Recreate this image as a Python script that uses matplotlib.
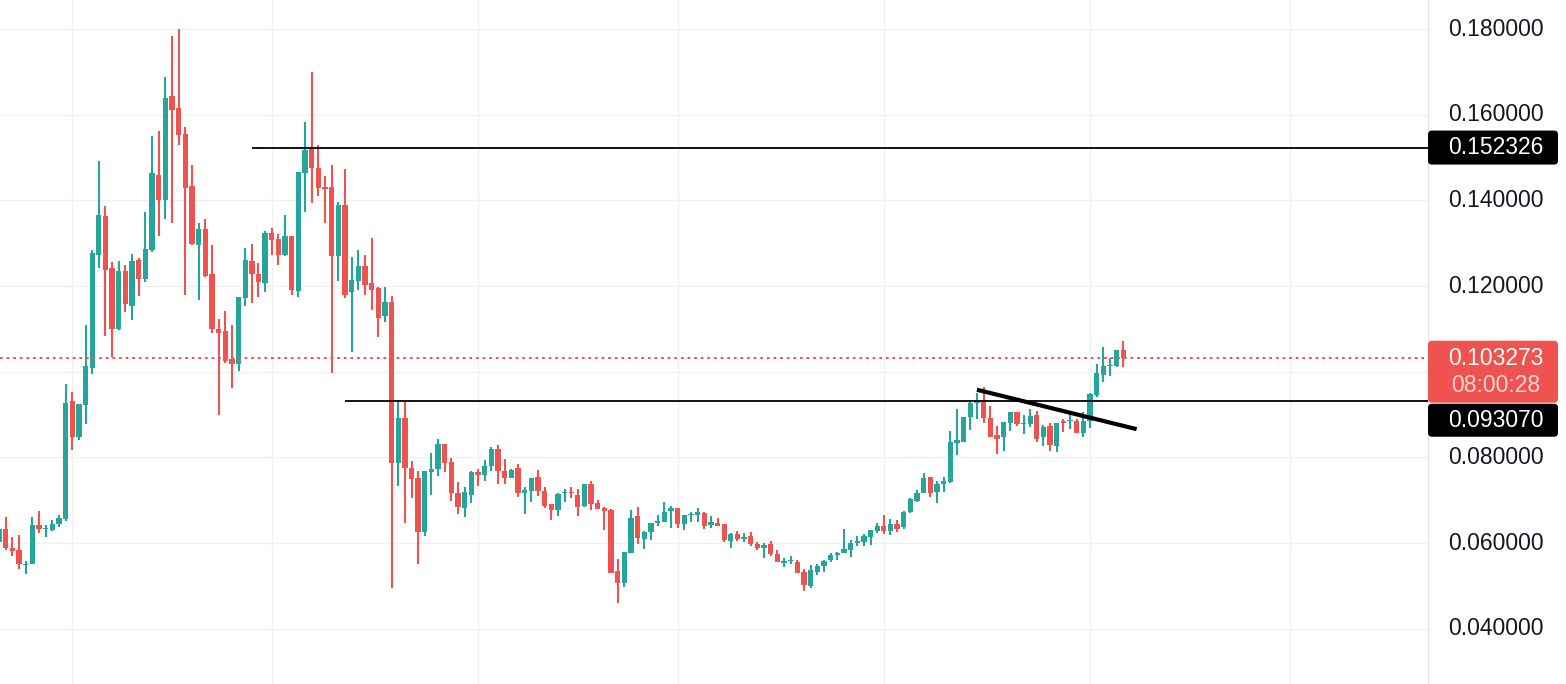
import numpy as np
import matplotlib
matplotlib.use("Agg")
import matplotlib.pyplot as plt
from matplotlib.patches import FancyBboxPatch
from matplotlib.transforms import IdentityTransform

plt.rcParams['font.family'] = ['Liberation Sans', 'DejaVu Sans']

# daily candles, index -1 .. 168
opens = [0.0603, 0.0633, 0.0589, 0.0584, 0.0550, 0.0551, 0.0642, 0.0633, 0.0631, 0.0645,
         0.0656, 0.0931, 0.0848, 0.0923, 0.1009, 0.1273, 0.1364, 0.1242, 0.1100, 0.1235,
         0.1154, 0.1261, 0.1217, 0.1284, 0.1459, 0.1401, 0.1644, 0.1616, 0.1555, 0.1434,
         0.1296, 0.1333, 0.1228, 0.1099, 0.1094, 0.1030, 0.1017, 0.1171, 0.1258, 0.1227,
         0.1208, 0.1325, 0.1310, 0.1273, 0.1317, 0.1189, 0.1465, 0.1520, 0.1476, 0.1431,
         0.1431, 0.1270, 0.1389, 0.1187, 0.1212, 0.1247, 0.1207, 0.1196, 0.1129, 0.1163,
         0.0788, 0.0892, 0.0776, 0.0752, 0.0627, 0.0767, 0.0772, 0.0831, 0.0789, 0.0718,
         0.0683, 0.0713, 0.0766, 0.0760, 0.0780, 0.0820, 0.0768, 0.0753, 0.0775, 0.0716,
         0.0722, 0.0754, 0.0722, 0.0691, 0.0678, 0.0716, 0.0720, 0.0712, 0.0687, 0.0738,
         0.0694, 0.0683, 0.0678, 0.0536, 0.0508, 0.0578, 0.0663, 0.0610, 0.0625, 0.0646,
         0.0650, 0.0676, 0.0682, 0.0645, 0.0666, 0.0666, 0.0671, 0.0643, 0.0648, 0.0645,
         0.0606, 0.0622, 0.0610, 0.0617, 0.0599, 0.0589, 0.0598, 0.0575, 0.0554, 0.0558,
         0.0556, 0.0533, 0.0500, 0.0533, 0.0547, 0.0561, 0.0572, 0.0578, 0.0584, 0.0600,
         0.0603, 0.0615, 0.0629, 0.0640, 0.0629, 0.0645, 0.0637, 0.0672, 0.0699, 0.0716,
         0.0754, 0.0719, 0.0737, 0.0743, 0.0833, 0.0837, 0.0894, 0.0928, 0.0929, 0.0891,
         0.0852, 0.0847, 0.0881, 0.0905, 0.0877, 0.0878, 0.0899, 0.0847, 0.0873, 0.0827,
         0.0884, 0.0884, 0.0886, 0.0858, 0.0886, 0.0946, 0.0993, 0.1014, 0.1014, 0.1051]
highs = [0.0640, 0.0661, 0.0614, 0.0619, 0.0558, 0.0661, 0.0674, 0.0642, 0.0654, 0.0665,
         0.0972, 0.0953, 0.0925, 0.1108, 0.1284, 0.1493, 0.1387, 0.1256, 0.1258, 0.1249,
         0.1275, 0.1266, 0.1373, 0.1550, 0.1562, 0.1688, 0.1784, 0.1800, 0.1571, 0.1483,
         0.1348, 0.1356, 0.1296, 0.1123, 0.1142, 0.1109, 0.1175, 0.1289, 0.1298, 0.1254,
         0.1329, 0.1336, 0.1322, 0.1366, 0.1317, 0.1466, 0.1583, 0.1700, 0.1529, 0.1457,
         0.1483, 0.1396, 0.1473, 0.1268, 0.1284, 0.1273, 0.1312, 0.1198, 0.1198, 0.1177,
         0.0934, 0.0932, 0.0792, 0.0768, 0.0768, 0.0810, 0.0843, 0.0831, 0.0799, 0.0743,
         0.0731, 0.0768, 0.0773, 0.0794, 0.0824, 0.0829, 0.0796, 0.0773, 0.0785, 0.0731,
         0.0752, 0.0771, 0.0731, 0.0691, 0.0717, 0.0726, 0.0731, 0.0726, 0.0738, 0.0745,
         0.0701, 0.0685, 0.0679, 0.0564, 0.0580, 0.0677, 0.0684, 0.0629, 0.0648, 0.0666,
         0.0696, 0.0687, 0.0682, 0.0666, 0.0673, 0.0682, 0.0673, 0.0663, 0.0659, 0.0645,
         0.0624, 0.0629, 0.0624, 0.0627, 0.0603, 0.0600, 0.0605, 0.0584, 0.0565, 0.0571,
         0.0561, 0.0540, 0.0549, 0.0551, 0.0561, 0.0578, 0.0579, 0.0633, 0.0607, 0.0617,
         0.0621, 0.0631, 0.0646, 0.0666, 0.0656, 0.0654, 0.0676, 0.0705, 0.0724, 0.0763,
         0.0755, 0.0744, 0.0754, 0.0862, 0.0913, 0.0895, 0.0932, 0.0950, 0.0965, 0.0920,
         0.0873, 0.0883, 0.0907, 0.0907, 0.0899, 0.0912, 0.0908, 0.0876, 0.0880, 0.0881,
         0.0889, 0.0907, 0.0889, 0.0907, 0.0951, 0.1018, 0.1057, 0.1031, 0.1051, 0.1072]
lows = [0.0598, 0.0584, 0.0570, 0.0540, 0.0528, 0.0551, 0.0624, 0.0614, 0.0628, 0.0637,
        0.0652, 0.0818, 0.0841, 0.0877, 0.0994, 0.1242, 0.1084, 0.1035, 0.1097, 0.1140,
        0.1121, 0.1177, 0.1210, 0.1280, 0.1318, 0.1356, 0.1348, 0.1529, 0.1179, 0.1296,
        0.1168, 0.1222, 0.1091, 0.0898, 0.1021, 0.0963, 0.1002, 0.1154, 0.1161, 0.1175,
        0.1187, 0.1273, 0.1250, 0.1270, 0.1178, 0.1175, 0.1374, 0.1395, 0.1411, 0.1348,
        0.0998, 0.1212, 0.1173, 0.1047, 0.1191, 0.1179, 0.1143, 0.1082, 0.1115, 0.0496,
        0.0734, 0.0648, 0.0706, 0.0552, 0.0617, 0.0712, 0.0757, 0.0765, 0.0699, 0.0669,
        0.0662, 0.0694, 0.0734, 0.0744, 0.0769, 0.0737, 0.0739, 0.0753, 0.0708, 0.0669,
        0.0697, 0.0711, 0.0683, 0.0655, 0.0664, 0.0697, 0.0706, 0.0664, 0.0685, 0.0678,
        0.0680, 0.0631, 0.0530, 0.0461, 0.0498, 0.0576, 0.0599, 0.0586, 0.0607, 0.0641,
        0.0650, 0.0636, 0.0636, 0.0631, 0.0650, 0.0650, 0.0634, 0.0636, 0.0641, 0.0602,
        0.0589, 0.0606, 0.0603, 0.0593, 0.0584, 0.0566, 0.0570, 0.0556, 0.0545, 0.0551,
        0.0530, 0.0489, 0.0495, 0.0526, 0.0533, 0.0556, 0.0561, 0.0577, 0.0568, 0.0594,
        0.0594, 0.0596, 0.0623, 0.0621, 0.0619, 0.0627, 0.0633, 0.0670, 0.0697, 0.0716,
        0.0707, 0.0694, 0.0720, 0.0741, 0.0806, 0.0835, 0.0864, 0.0890, 0.0880, 0.0847,
        0.0808, 0.0816, 0.0862, 0.0874, 0.0855, 0.0872, 0.0837, 0.0827, 0.0816, 0.0813,
        0.0860, 0.0866, 0.0856, 0.0848, 0.0868, 0.0942, 0.0975, 0.0990, 0.1012, 0.1010]
closes = [0.0633, 0.0589, 0.0581, 0.0552, 0.0552, 0.0642, 0.0633, 0.0634, 0.0645, 0.0659,
          0.0928, 0.0848, 0.0924, 0.1014, 0.1277, 0.1366, 0.1238, 0.1100, 0.1235, 0.1157,
          0.1258, 0.1217, 0.1287, 0.1464, 0.1401, 0.1639, 0.1611, 0.1553, 0.1430, 0.1298,
          0.1333, 0.1224, 0.1099, 0.1090, 0.1026, 0.1017, 0.1174, 0.1261, 0.1227, 0.1210,
          0.1325, 0.1308, 0.1273, 0.1317, 0.1191, 0.1466, 0.1518, 0.1476, 0.1430, 0.1427,
          0.1270, 0.1389, 0.1179, 0.1214, 0.1247, 0.1203, 0.1191, 0.1126, 0.1163, 0.0788,
          0.0892, 0.0776, 0.0750, 0.0627, 0.0768, 0.0772, 0.0831, 0.0788, 0.0718, 0.0685,
          0.0719, 0.0766, 0.0760, 0.0780, 0.0820, 0.0769, 0.0753, 0.0771, 0.0716, 0.0724,
          0.0752, 0.0722, 0.0687, 0.0678, 0.0715, 0.0720, 0.0716, 0.0685, 0.0738, 0.0692,
          0.0680, 0.0676, 0.0531, 0.0508, 0.0580, 0.0659, 0.0613, 0.0627, 0.0646, 0.0652,
          0.0673, 0.0682, 0.0645, 0.0666, 0.0668, 0.0673, 0.0641, 0.0650, 0.0641, 0.0607,
          0.0622, 0.0610, 0.0615, 0.0599, 0.0589, 0.0596, 0.0575, 0.0556, 0.0559, 0.0561,
          0.0530, 0.0502, 0.0537, 0.0547, 0.0558, 0.0573, 0.0577, 0.0586, 0.0600, 0.0605,
          0.0617, 0.0631, 0.0640, 0.0629, 0.0645, 0.0634, 0.0673, 0.0703, 0.0718, 0.0752,
          0.0716, 0.0738, 0.0746, 0.0835, 0.0841, 0.0895, 0.0928, 0.0932, 0.0893, 0.0848,
          0.0844, 0.0883, 0.0905, 0.0877, 0.0880, 0.0897, 0.0844, 0.0872, 0.0828, 0.0880,
          0.0880, 0.0886, 0.0858, 0.0886, 0.0948, 0.0998, 0.1014, 0.1016, 0.1051, 0.103273]

last_price = 0.103273
last_label = "0.103273"
countdown = "08:00:28"
levels = [0.152326, 0.093070]
level_labels = ["0.152326", "0.093070"]
level_start = [37, 51]          # candle index where each level line begins
trend_x = [146, 170]
trend_y = [0.0958, 0.0866]
price_ticks = [0.04, 0.06, 0.08, 0.10, 0.12, 0.14, 0.16, 0.18]
month_lines = [10, 40, 71, 101, 132, 163, 193]

UP = '#26A69A'
DOWN = '#EF5350'

o = np.array(opens); h = np.array(highs); l = np.array(lows); c = np.array(closes)
x = np.arange(-1, len(o) - 1)
cols = np.where(c >= o, UP, DOWN)

W, H = 1566, 684
fig = plt.figure(figsize=(W / 100, H / 100), dpi=100)
ax = fig.add_axes([0, 0, 1428 / W, 1])
ymin, ymax = 0.02712, 0.18677
ax.set_xlim(-0.857, 213.8)
ax.set_ylim(ymin, ymax)

# grid
ax.set_xticks(month_lines)
ax.set_yticks(price_ticks)
ax.grid(True, color='#F0F0F0', lw=1)
ax.tick_params(length=0, labelbottom=False, labelleft=False)
for s in ['top', 'left', 'bottom']:
    ax.spines[s].set_visible(False)
ax.spines['right'].set_color('#E0E3EB')
ax.set_axisbelow(True)

# candles
px = (ymax - ymin) / H
ax.vlines(x, l, h, colors=cols, lw=1.5, zorder=2)
ax.bar(x, np.maximum(np.abs(c - o), px), bottom=np.minimum(o, c), width=0.8,
       color=cols, zorder=3, linewidth=0)

# levels and trend line
for lv, st in zip(levels, level_start):
    ax.hlines(lv, st, 213.8, color='black', lw=1.3, zorder=4)
ax.plot(trend_x, trend_y, color='black', lw=3, solid_capstyle='butt', zorder=5)
ax.axhline(last_price, color=DOWN, lw=1.4, ls=(0, (1.4, 2)), zorder=4)

# price scale
def ypix(p):
    return ax.transData.transform((0, p))[1]

def box(y0, hgt, fc):
    fig.add_artist(FancyBboxPatch((1428, y0), 130, hgt, boxstyle="round,pad=0,rounding_size=4",
                                  transform=IdentityTransform(), fc=fc, ec='none', zorder=10))

tc = 1496
yp = ypix(last_price)
red_top = yp + 17
red_bot = red_top - 62

# tick labels, skipping the one hidden under the last-price box
for t in price_ticks:
    yt = ypix(t)
    if red_bot - 10 < yt < red_top + 10:
        continue
    fig.text(tc, yt, f"{t:.6f}", transform=IdentityTransform(), ha='center',
             va='center', fontsize=16.5, color='#131722')

yl = ypix(levels[0])
box(yl - 17, 34, 'black')
fig.text(tc, yl, level_labels[0], transform=IdentityTransform(), ha='center', va='center',
         fontsize=16.5, color='white', zorder=11)

box(red_bot, 62, DOWN)
fig.text(tc, yp - 1, last_label, transform=IdentityTransform(), ha='center', va='center',
         fontsize=16.5, color='white', zorder=11)
fig.text(tc, yp - 28, countdown, transform=IdentityTransform(), ha='center', va='center',
         fontsize=16.5, color='white', alpha=0.75, zorder=11)

b_top = red_bot - 1
box(b_top - 33, 33, 'black')
fig.text(tc, b_top - 16.5, level_labels[1], transform=IdentityTransform(), ha='center',
         va='center', fontsize=16.5, color='white', zorder=11)

fig.savefig("out.png", dpi=100)
